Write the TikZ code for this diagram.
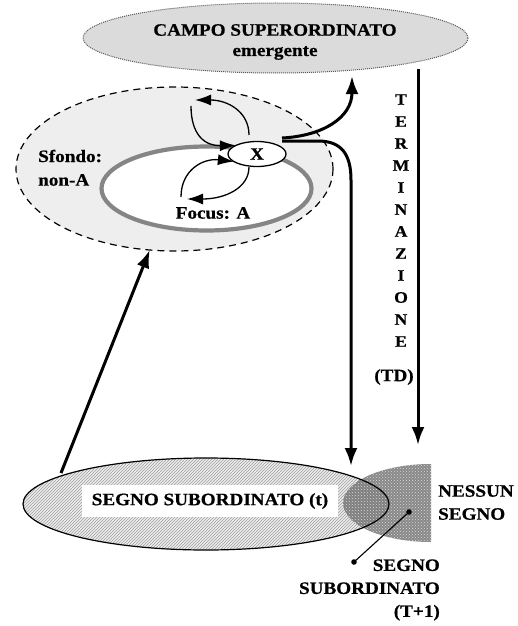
\documentclass[tikz,border=0pt]{standalone}
\usepackage{fontspec}
\setmainfont[FakeStretch=1.1, BoldFeatures={FakeBold=0.6}]{Liberation Serif}
\usetikzlibrary{arrows.meta,shapes.geometric,patterns}

\tikzset{
  lbl/.style={inner sep=0pt, font=\fontsize{17.4}{23}\selectfont\bfseries},
  bigarrow/.style={line width=3pt, -{Latex[length=18pt,width=13pt]}},
  smallarrow/.style={line width=1.3pt, -{Latex[length=16pt,width=11pt]}},
  oval/.style={ellipse, inner sep=0pt, outer sep=0pt},
}

\begin{document}
\begin{tikzpicture}[x=1pt,y=-1pt]
\useasboundingbox (0,0) rectangle (518,626);

% emergent superordinate field
\node[oval, minimum width=385, minimum height=70, fill=gray!28,
      draw=gray!70!black, densely dotted, line width=1pt] (campo) at (275.5,38) {};
\node[lbl] (campoA) at (275,30) {CAMPO SUPERORDINATO};
\node[lbl] (campoB) at (275,53) {emergente};

% background / focus
\node[oval, minimum width=317, minimum height=164, fill=gray!13,
      draw, dash pattern=on 7pt off 5pt, line width=1.2pt] (sfondo) at (174.5,169) {};
\node[oval, minimum width=210, minimum height=84, fill=white,
      draw=black!48, line width=4.2pt] (ring) at (206.5,188.5) {};
\node[lbl, anchor=west] (sf1) at (38,156) {Sfondo:};
\node[lbl, anchor=west] (sf2) at (38,180) {non-A};
\node[lbl] (focus) at (213,213) {Focus: A};

\node[oval, minimum width=58, minimum height=25, fill=white, draw,
      line width=1.3pt, lbl] (x) at (257,154) {X};

% loops around X
\coordinate (l1) at (191,106);
\coordinate (l2s) at (249,135);
\coordinate (l2e) at (195,100);
\coordinate (l3s) at (249,167);
\coordinate (l3e) at (187,199);
\coordinate (l4) at (181,197);
\draw[smallarrow] (l1) .. controls (191,135) and (205,146) .. (x.158);
\draw[smallarrow] (l2s) .. controls (249,112) and (228,100) .. (l2e);
\draw[smallarrow] (l3s) .. controls (249,188) and (225,199) .. (l3e);
\draw[smallarrow] (l4) .. controls (181,170) and (203,158) .. (x.198);

% outputs of X
\coordinate (xo1) at (282,138);
\coordinate (xo2) at (282,141);
\coordinate (campoIn) at (352,76);
\coordinate (segnoIn) at (351,466);
\draw[bigarrow] (xo1) .. controls (322,136) and (352,118) .. (campoIn);
\draw[bigarrow] (xo2) -- (318,141) .. controls (342,141) and (351,155) .. (351,180) -- (segnoIn);

% termination (top-down)
\coordinate (tdTop) at (418,69);
\coordinate (tdEnd) at (418,445);
\draw[bigarrow] (tdTop) -- (tdEnd);
\node[lbl, align=center, font=\fontsize{16}{22}\selectfont\bfseries] (term) at (401,220.5)
  {T\\E\\R\\M\\I\\N\\A\\Z\\I\\O\\N\\E};
\node[lbl] (td) at (394,377) {(TD)};

% subordinate sign (t)
\node[oval, minimum width=366, minimum height=92, fill=gray!14] (segno) at (206,504) {};
\fill[pattern=north east lines, pattern color=gray!75]
  (206,504) ellipse[x radius=183, y radius=46];

% no sign / subordinate sign (T+1)
\path[fill=black!62, fill opacity=0.75]
  (431,464) arc[start angle=-90, end angle=-270, x radius=88, y radius=39] -- cycle;
\path[pattern=crosshatch dots, pattern color=gray!30]
  (431,464) arc[start angle=-90, end angle=-270, x radius=88, y radius=39] -- cycle;
\draw[line width=1.2pt] (segno.center) ellipse[x radius=183, y radius=46];

\node[lbl, fill=white, minimum width=256, minimum height=32] (segnoT) at (210,501)
  {SEGNO SUBORDINATO (t)};

\coordinate (segnoOut) at (61,473);
\draw[bigarrow] (segnoOut) -- (sfondo.253);

\coordinate (dotA) at (409,512);
\coordinate (dotB) at (354,562);
\draw[line width=1.1pt] (dotA) -- (dotB);
\fill (dotA) circle[radius=2.8];
\fill (dotB) circle[radius=2.8];

\node[lbl, anchor=west, align=left] (nessun) at (438,502.5) {NESSUN\\SEGNO};
\node[lbl, anchor=east, align=right] (segno1) at (440,590) {SEGNO\\SUBORDINATO\\(T+1)};
\end{tikzpicture}
\end{document}
